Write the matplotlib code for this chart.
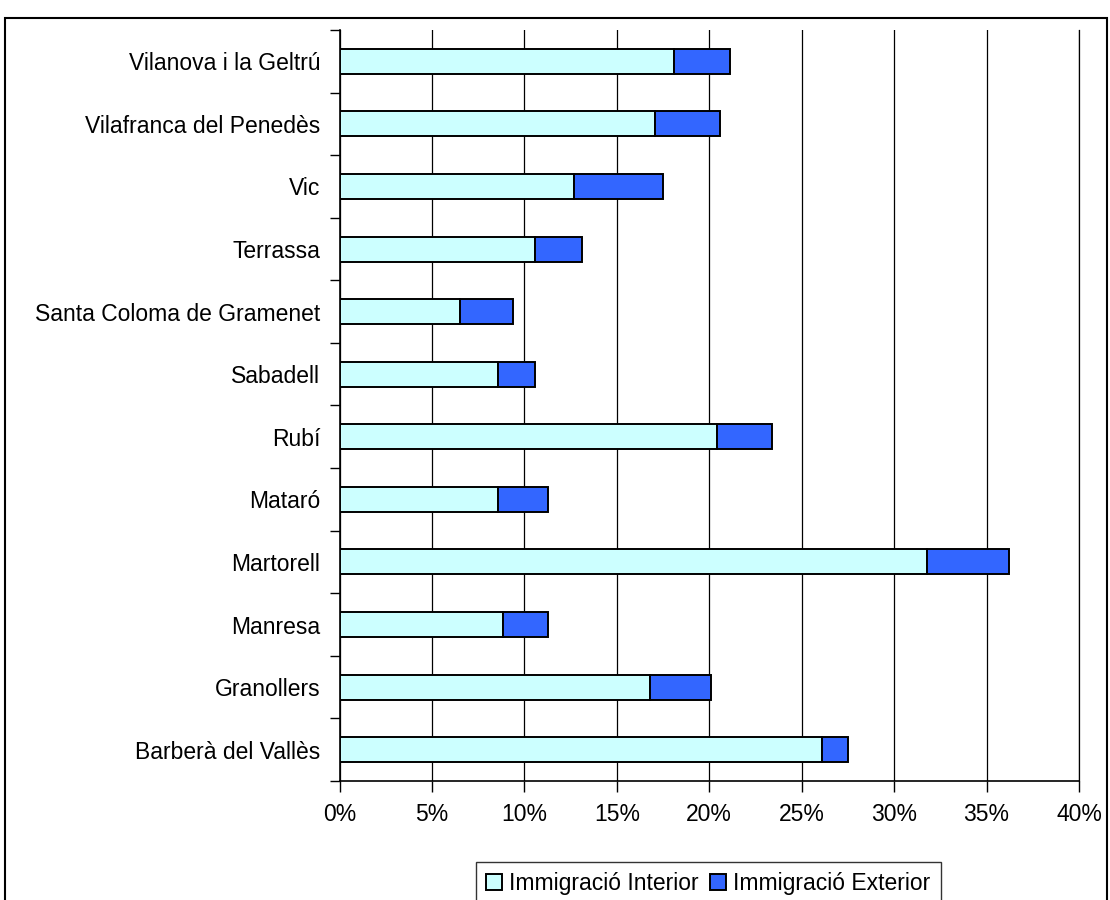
import matplotlib.pyplot as plt
import numpy as np
from matplotlib.patches import Rectangle
from matplotlib.ticker import FixedLocator, FuncFormatter

plt.rcParams['font.family'] = ['Liberation Sans', 'DejaVu Sans']

# data (bottom to top)
municipis = ['Barberà del Vallès', 'Granollers', 'Manresa', 'Martorell', 'Mataró',
             'Rubí', 'Sabadell', 'Santa Coloma de Gramenet', 'Terrassa', 'Vic',
             'Vilafranca del Penedès', 'Vilanova i la Geltrú']
interior = [26.1, 16.8, 8.85, 31.8, 8.55, 20.4, 8.55, 6.5, 10.6, 12.7, 17.05, 18.1]
exterior = [1.4, 3.3, 2.45, 4.4, 2.75, 3.0, 2.05, 2.9, 2.5, 4.8, 3.55, 3.0]
xticks = [0, 5, 10, 15, 20, 25, 30, 35, 40]

fig = plt.figure(figsize=(11.1, 9), dpi=100)
ax = fig.add_axes([339.5 / 1110, 1 - 781 / 900, (1079 - 339.5) / 1110, (781 - 30) / 900])

y = np.arange(len(municipis))
ax.barh(y, interior, height=0.4, color='#CCFFFF', edgecolor='black', linewidth=1.4,
        label='Immigració Interior', zorder=3)
ax.barh(y, exterior, left=interior, height=0.4, color='#3366FF', edgecolor='black',
        linewidth=1.4, label='Immigració Exterior', zorder=3)

ax.set_xlim(0, 40)
ax.set_ylim(-0.5, len(municipis) - 0.5)
ax.set_xticks(xticks)
ax.xaxis.set_major_formatter(FuncFormatter(lambda v, p: f'{v:.0f}%'))
ax.grid(axis='x', color='black', linewidth=0.9, zorder=0)

ax.set_yticks(y)
ax.set_yticklabels(municipis)
ax.yaxis.set_minor_locator(FixedLocator(np.arange(-0.5, len(municipis), 1.0)))
ax.tick_params(axis='y', which='major', length=0, pad=14, labelsize=16.5)
ax.tick_params(axis='y', which='minor', length=7, width=1, direction='out')
ax.tick_params(axis='x', length=8, width=1, direction='out', pad=8, labelsize=16.5)

ax.spines['top'].set_visible(False)
ax.spines['right'].set_linewidth(0.9)
ax.spines['left'].set_linewidth(1.2)
ax.spines['bottom'].set_linewidth(1.2)

# outer chart border
fig.patches.append(Rectangle((5 / 1110, -0.05), 1102 / 1110, 1.05 - 18 / 900,
                             transform=fig.transFigure, fill=False,
                             edgecolor='black', linewidth=1.5))

leg = fig.legend(loc='upper center', bbox_to_anchor=(0.638, 1 - 862 / 900), ncol=2,
                 fontsize=16.5, frameon=True, fancybox=False, edgecolor='black',
                 handlelength=0.7, handleheight=0.7, handletextpad=0.3,
                 columnspacing=0.5, borderpad=0.45, borderaxespad=0)
leg.get_frame().set_linewidth(1.0)

fig.savefig('out.png', dpi=100)
